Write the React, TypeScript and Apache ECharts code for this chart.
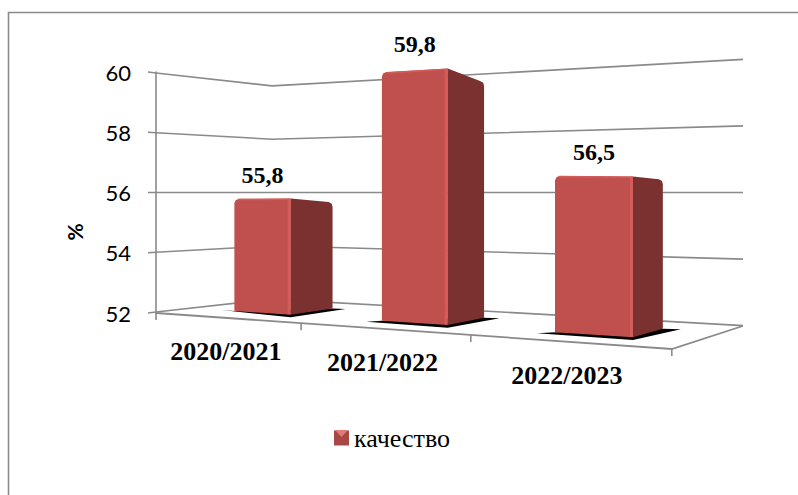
import React, { useEffect, useRef } from "react";
import * as echarts from "echarts";

const categories = ["2020/2021", "2021/2022", "2022/2023"];
const seriesName = "качество";
const values = [55.8, 59.8, 56.5];
const tickValues = [52, 54, 56, 58, 60];
const axisTitle = "%";

const W = 798;
const H = 495;
const GRID = { left: 156, top: 72, width: 516, height: 241 };
const SERIF = "'Liberation Serif', 'Times New Roman', serif";
const SANS = "Lato, 'Noto Sans', sans-serif";
const GRID_LINE = "#8a8a8a";

// Oblique projection of the floor of the 3D chart.
// u runs along the categories (0..1), v runs into the depth (0..1).
function frontEdge(u: number): [number, number] {
  const x = (370 * u + GRID.left) / (1 - 0.217 * u);
  return [x, GRID.top + GRID.height + (x - GRID.left) * 0.0698];
}
function floorPoint(u: number, v: number): [number, number] {
  const [x, y] = frontEdge(u);
  const t = (x - GRID.left) / GRID.width;
  return [x + v * (116 - 45 * t), y + v * (-14 - 9 * t)];
}
function heightScale(u: number, v: number) {
  return 1.036 + 0.263 * u - 0.226 * v;
}
const V_FRONT = 0.33;
const V_BACK = 0.72;
const BAR_SHARE = 0.4;

function App() {
  const ref = useRef<HTMLDivElement>(null);
  useEffect(() => {
    const chart = echarts.init(ref.current!, null, { renderer: "svg", width: W, height: H });

    const renderWalls = (params: any, api: any) => {
      const y0 = api.coord([0, api.value(0)])[1];
      const mid = (GRID.top + GRID.top + GRID.height) / 2;
      const bY = 192.5 + (y0 - mid) * 0.885;
      const cY = 192.5 + (y0 - mid) * 1.105;
      return {
        type: "polyline",
        shape: { points: [[GRID.left - 8, y0], [GRID.left, y0 + (bY - y0) * 0.07], [272, bY], [743, cY]] },
        style: { stroke: GRID_LINE, lineWidth: 1.6, fill: "none" },
      };
    };

    const renderFloor = () => {
      const a = floorPoint(0, 0);
      const d = floorPoint(1, 0);
      const c = floorPoint(1, 1);
      const ticks = [0, 1 / 3, 2 / 3, 1].map((u) => {
        const p = frontEdge(u);
        return {
          type: "line",
          shape: { x1: p[0], y1: p[1], x2: p[0], y2: p[1] + 7 },
          style: { stroke: GRID_LINE, lineWidth: 1.6 },
        };
      });
      return {
        type: "group",
        children: [
          {
            type: "polyline",
            shape: { points: [a, d, c] },
            style: { stroke: GRID_LINE, lineWidth: 1.8, fill: "none" },
          },
          ...ticks,
        ],
      };
    };

    const renderBar = (params: any, api: any) => {
      const i = api.value(0);
      const v = api.value(1);
      const center = api.coord([i, tickValues[0]]);
      const band = api.size([1, 0])[0];
      const top = api.coord([i, v]);
      const rawH = center[1] - top[1];
      const h = rawH * (1 - rawH * 0.00007);
      const uc = (center[0] - GRID.left) / GRID.width;
      const halfU = ((band * BAR_SHARE) / 2) / GRID.width;
      const u0 = uc - halfU;
      const u1 = uc + halfU;
      const fl = floorPoint(u0, V_FRONT);
      const fm = floorPoint(u1, V_FRONT);
      const br = floorPoint(u1, V_BACK);
      const flT: [number, number] = [fl[0], fl[1] - h * heightScale(u0, V_FRONT)];
      const fmT: [number, number] = [fm[0], fm[1] - h * heightScale(u1, V_FRONT)];
      const brT: [number, number] = [br[0], br[1] - h * heightScale(u1, V_BACK)];
      const spread = 13 + i * 2.5;
      const shadow = [
        [fl[0] - spread, fl[1] + (i === 0 ? -1 : 1)],
        [fm[0], fm[1] + 2.6],
        [br[0] + spread, br[1] + 0.5],
        br,
        fl,
      ];
      return {
        type: "group",
        children: [
          { type: "polygon", shape: { points: shadow }, style: { fill: "#000000" } },
          {
            type: "polygon",
            shape: {
              points: [
                fl,
                [flT[0], flT[1] + 4.5],
                [flT[0] + 1.2, flT[1] + 1.4],
                [flT[0] + 4.5, flT[1] - 0.2],
                fmT,
                fm,
              ],
            },
            style: { fill: "#c0504d" },
          },
          {
            type: "polygon",
            shape: {
              points: [
                fmT,
                [brT[0] - 4, brT[1] - 0.5],
                [brT[0] - 0.8, brT[1] + 1.2],
                [brT[0], brT[1] + 4.5],
                br,
                fm,
              ],
            },
            style: { fill: "#7b3130" },
          },
          {
            type: "line",
            shape: { x1: fmT[0] - 1.5, y1: fmT[1] + 0.5, x2: fm[0] - 1.5, y2: fm[1] - 0.5 },
            style: { stroke: "#d25c58", lineWidth: 3 },
          },
          {
            type: "polyline",
            shape: { points: [[flT[0] + 4, flT[1] + 0.7], [fmT[0], fmT[1] + 0.7]] },
            style: { stroke: "#d25c58", lineWidth: 1.5, fill: "none" },
          },
          {
            type: "text",
            x: (flT[0] + fmT[0]) / 2,
            y: fmT[1] - 24,
            style: {
              text: String(v).replace(".", ","),
              fontFamily: SERIF,
              fontWeight: "bold",
              fontSize: 24,
              fill: "#000000",
              align: "center",
              verticalAlign: "middle",
              textAlign: "center",
              textVerticalAlign: "middle",
            },
          },
        ],
      };
    };

    const renderCategoryLabel = (params: any, api: any) => {
      const i = api.value(0);
      const center = api.coord([i, tickValues[0]]);
      const p = frontEdge((center[0] - GRID.left) / GRID.width);
      return {
        type: "text",
        x: p[0],
        y: p[1] + 34,
        style: {
          text: categories[i],
          fontFamily: SERIF,
          fontWeight: "bold",
          fontSize: 26,
          fill: "#000000",
          align: "center",
          verticalAlign: "middle",
          textAlign: "center",
          textVerticalAlign: "middle",
        },
      };
    };

    chart.setOption({
      animation: false,
      backgroundColor: "#ffffff",
      grid: { left: GRID.left, top: GRID.top, width: GRID.width, height: GRID.height },
      xAxis: {
        type: "category",
        data: categories,
        axisLine: { show: false },
        axisTick: { show: false },
        axisLabel: { show: false },
        splitLine: { show: false },
      },
      yAxis: {
        type: "value",
        min: 52,
        max: 60,
        interval: 2,
        axisLine: { show: true, lineStyle: { color: GRID_LINE, width: 1.6 } },
        axisTick: { show: false },
        axisLabel: { margin: 25, fontFamily: SANS, fontSize: 22, color: "#000000" },
        splitLine: { show: false },
      },
      legend: {
        data: [{ name: seriesName, icon: "rect" }],
        left: 329,
        top: 420,
        itemWidth: 15,
        itemHeight: 15,
        itemGap: 5,
        textStyle: { fontFamily: SERIF, fontSize: 26, color: "#000000", padding: [0, 0, 0, 0] },
      },
      graphic: [
        {
          type: "rect",
          shape: { x: 8.5, y: 12.5, width: 900, height: 600 },
          style: { fill: "none", stroke: "#8a8a8a", lineWidth: 1.6 },
          silent: true,
        },
        {
          type: "polygon",
          z: 100,
          shape: { points: [[335, 430], [348, 430], [341.5, 437]] },
          style: { fill: "#e27a78" },
          silent: true,
        },
        {
          type: "text",
          x: 74,
          y: 232,
          rotation: Math.PI / 2,
          style: {
            text: axisTitle,
            fontFamily: SANS,
            fontWeight: "bold",
            fontSize: 21,
            fill: "#000000",
            align: "center",
            verticalAlign: "middle",
          },
        },
      ],
      series: [
        {
          type: "custom",
          name: "walls",
          silent: true,
          clip: false,
          z: 1,
          data: tickValues.map((t) => [t]),
          encode: { y: 0 },
          renderItem: renderWalls,
        },
        {
          type: "custom",
          name: "floor",
          silent: true,
          clip: false,
          z: 2,
          data: [[0]],
          renderItem: renderFloor,
        },
        {
          type: "custom",
          name: seriesName,
          clip: false,
          z: 3,
          itemStyle: { color: "#a84744" },
          data: values.map((v, i) => [i, v]),
          encode: { x: 0, y: 1 },
          renderItem: renderBar,
        },
        {
          type: "custom",
          name: "labels",
          silent: true,
          clip: false,
          z: 4,
          data: categories.map((_, i) => [i]),
          encode: { x: 0 },
          renderItem: renderCategoryLabel,
        },
      ],
    });
    return () => chart.dispose();
  }, []);
  return <div ref={ref} style={{ position: "fixed", left: 0, top: 0, width: W, height: H }} />;
}

export default App;
